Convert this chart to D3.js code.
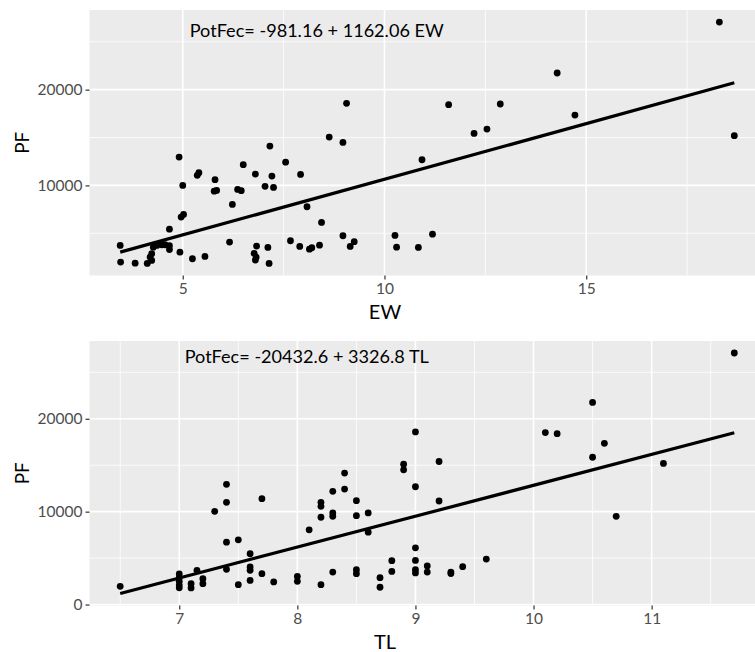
<!DOCTYPE html>
<html>
<head>
<meta charset="utf-8">
<script src="https://cdn.jsdelivr.net/npm/d3@7"></script>
<style>
  html, body { margin: 0; padding: 0; background: #fff; }
  svg { display: block; font-family: Lato, "Open Sans", sans-serif; }
</style>
</head>
<body>
<svg id="chart" width="755" height="652"></svg>
<script>
'use strict';

// PF against egg width (EW)
var ewValues = [3.45, 3.46, 3.82, 4.12, 4.19, 4.23, 4.23, 4.27, 4.36, 4.48,
  4.56, 4.67, 4.67, 4.67, 4.91, 4.93, 4.96, 5.02, 5.00, 5.24,
  5.36, 5.40, 5.55, 5.80, 5.78, 5.84, 6.16, 6.23, 6.36, 6.45,
  6.50, 6.80, 6.83, 6.77, 6.82, 6.80, 7.04, 7.16, 7.21, 7.25,
  7.11, 7.14, 7.55, 7.67, 7.92, 7.90, 8.08, 8.14, 8.20, 8.39,
  8.44, 8.63, 8.97, 9.06, 8.97, 9.15, 9.25, 10.26, 10.30, 10.84,
  10.93, 11.19, 11.59, 12.22, 12.54, 12.87, 14.28, 14.72, 18.30, 18.67];
var pfByEw = [3730, 1990, 1880, 1850, 2510, 2160, 2860, 3550, 3730, 3800,
  3800, 5430, 3700, 3300, 12960, 3030, 6690, 6970, 10000, 2340,
  11050, 11330, 2580, 10600, 9400, 9480, 4080, 8010, 9580, 9450,
  12160, 11180, 3660, 2900, 2510, 2200, 9900, 14110, 10970, 9790,
  3520, 1850, 12430, 4220, 11150, 3630, 7770, 3340, 3490, 3760,
  6130, 15050, 14490, 18570, 4740, 3630, 4120, 4780, 3550, 3520,
  12680, 4910, 18430, 15430, 15880, 18500, 21740, 17350, 27060, 15190];

// PF against total length (TL)
var tlValues = [6.5, 7.0, 7.0, 7.0, 7.0, 7.0, 7.1, 7.1, 7.15, 7.2,
  7.2, 7.3, 7.4, 7.4, 7.4, 7.4, 7.5, 7.5, 7.6, 7.6,
  7.6, 7.6, 7.7, 7.7, 7.8, 8.0, 8.0, 8.1, 8.2, 8.2,
  8.2, 8.2, 8.3, 8.3, 8.3, 8.3, 8.4, 8.4, 8.5, 8.5,
  8.5, 8.5, 8.6, 8.6, 8.7, 8.7, 8.8, 8.8, 8.9, 8.9,
  9.0, 9.0, 9.0, 9.0, 9.0, 9.0, 9.1, 9.1, 9.2, 9.2,
  9.3, 9.3, 9.4, 9.6, 10.1, 10.2, 10.5, 10.5, 10.6, 10.7,
  11.1, 11.7];
var pfByTl = [1960, 3300, 2900, 2500, 2100, 1800, 2250, 1790, 3680, 2790,
  2250, 10040, 12940, 11010, 6720, 3790, 6970, 2140, 5470, 4040,
  3680, 2600, 11400, 3320, 2430, 3030, 2500, 8040, 11010, 10580,
  9400, 2140, 12190, 9860, 9500, 3500, 14150, 12430, 11180, 9570,
  3750, 3320, 9860, 7790, 2890, 1860, 4720, 3570, 15110, 14500,
  18580, 12680, 6110, 4750, 3750, 3400, 4150, 3500, 15400, 11150,
  3500, 3330, 4080, 4900, 18510, 18400, 21760, 15860, 17360, 9500,
  15190, 27080];

// fitted lines: intercept, slope
var ewFit = [-981.16, 1162.06];
var tlFit = [-20432.6, 3326.8];

var ewTicks = [5, 10, 15];
var ewMinor = [2.5, 7.5, 12.5, 17.5];
var tlTicks = [7, 8, 9, 10, 11];
var tlMinor = [6.5, 7.5, 8.5, 9.5, 10.5, 11.5];
var pfTicks = [0, 10000, 20000];
var pfMinor = [5000, 15000, 25000];

var ewLabel = 'PotFec= -981.16 + 1162.06 EW';
var tlLabel = 'PotFec= -20432.6 + 3326.8 TL';

var svg = d3.select('#chart');

function expand(lo, hi) {
  var pad = (hi - lo) * 0.05;
  return [lo - pad, hi + pad];
}

function panel(opts) {
  var xs = opts.x, ys = opts.y, fit = opts.fit;
  var xr = d3.extent(xs);
  var fitY = xr.map(function (v) { return fit[0] + fit[1] * v; });
  var yr = d3.extent(ys.concat(fitY));

  var x = d3.scaleLinear().domain(expand(xr[0], xr[1])).range([89.5, 765]);
  var y = d3.scaleLinear().domain(expand(yr[0], yr[1])).range([opts.bottom, opts.top]);

  var g = svg.append('g');
  var left = x.range()[0], right = x.range()[1];

  g.append('rect')
    .attr('x', left).attr('y', opts.top)
    .attr('width', right - left).attr('height', opts.bottom - opts.top)
    .attr('fill', '#ebebeb');

  function inY(v) { return v >= y.domain()[0] && v <= y.domain()[1]; }
  function inX(v) { return v >= x.domain()[0] && v <= x.domain()[1]; }

  var grid = g.append('g').attr('stroke', '#fff');
  grid.selectAll('line.ym').data(pfMinor.filter(inY)).join('line')
    .attr('x1', left).attr('x2', right)
    .attr('y1', y).attr('y2', y).attr('stroke-width', 0.8);
  grid.selectAll('line.xm').data(opts.minor.filter(inX)).join('line')
    .attr('class', 'xm')
    .attr('y1', opts.top).attr('y2', opts.bottom)
    .attr('x1', x).attr('x2', x).attr('stroke-width', 0.8);
  grid.selectAll('line.yM').data(pfTicks.filter(inY)).join('line')
    .attr('class', 'yM')
    .attr('x1', left).attr('x2', right)
    .attr('y1', y).attr('y2', y).attr('stroke-width', 1.6);
  grid.selectAll('line.xM').data(opts.ticks.filter(inX)).join('line')
    .attr('class', 'xM')
    .attr('y1', opts.top).attr('y2', opts.bottom)
    .attr('x1', x).attr('x2', x).attr('stroke-width', 1.6);

  // axes, styled like ggplot's grey theme
  var yAxis = g.append('g')
    .attr('transform', 'translate(' + left + ',0)')
    .call(d3.axisLeft(y).tickValues(pfTicks.filter(inY)).tickSize(4).tickPadding(3).tickFormat(d3.format('d')));
  var xAxis = g.append('g')
    .attr('transform', 'translate(0,' + opts.bottom + ')')
    .call(d3.axisBottom(x).tickValues(opts.ticks).tickSize(4).tickPadding(3).tickFormat(d3.format('d')));
  [xAxis, yAxis].forEach(function (a) {
    a.select('.domain').remove();
    a.selectAll('.tick line').attr('stroke', '#333').attr('stroke-width', 1.2);
    a.selectAll('.tick text').attr('fill', '#4d4d4d')
      .style('font-size', '15.5px').style('font-family', 'Lato');
  });

  g.append('g').selectAll('circle')
    .data(d3.zip(xs, ys)).join('circle')
    .attr('cx', function (d) { return x(d[0]); })
    .attr('cy', function (d) { return y(d[1]); })
    .attr('r', 3.4)
    .attr('fill', '#000');

  var line = d3.line()
    .x(function (d) { return x(d); })
    .y(function (d) { return y(fit[0] + fit[1] * d); });
  g.append('path')
    .datum(xr)
    .attr('d', line)
    .attr('fill', 'none')
    .attr('stroke', '#000')
    .attr('stroke-width', 3.2);

  g.append('text')
    .attr('x', x(opts.labelAt[0])).attr('y', y(opts.labelAt[1]))
    .attr('text-anchor', 'middle').attr('dominant-baseline', 'middle')
    .style('font-size', '18.1px').attr('fill', '#000')
    .text(opts.label);

  g.append('text')
    .attr('x', 385).attr('y', opts.bottom + 43)
    .attr('text-anchor', 'middle')
    .style('font-size', '20px').attr('fill', '#000')
    .text(opts.title);

  g.append('text')
    .attr('transform', 'translate(29,' + ((opts.top + opts.bottom) / 2) + ') rotate(-90)')
    .attr('text-anchor', 'middle')
    .style('font-size', '19px').attr('fill', '#000')
    .text('PF');
}

panel({
  x: ewValues, y: pfByEw, fit: ewFit,
  ticks: ewTicks, minor: ewMinor,
  top: 10, bottom: 275.5,
  label: ewLabel, labelAt: [8.32, 26000],
  title: 'EW'
});

panel({
  x: tlValues, y: pfByTl, fit: tlFit,
  ticks: tlTicks, minor: tlMinor,
  top: 341, bottom: 605.5,
  label: tlLabel, labelAt: [8.08, 26450],
  title: 'TL'
});
</script>
</body>
</html>
